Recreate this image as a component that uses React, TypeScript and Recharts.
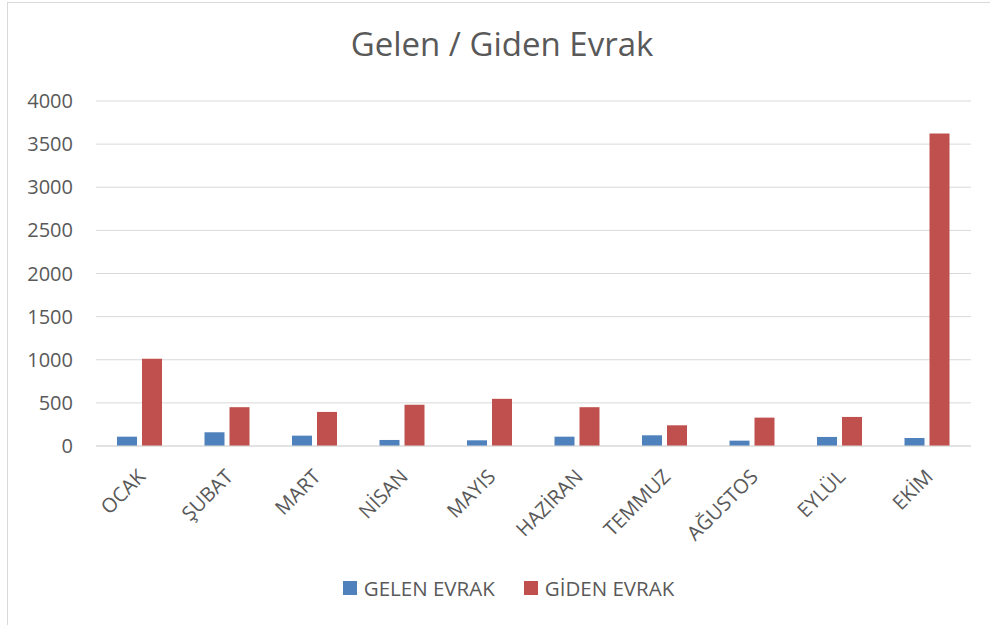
import React from 'react';
import { BarChart, Bar, XAxis, YAxis, CartesianGrid, Legend } from 'recharts';

const months = ['OCAK', 'ŞUBAT', 'MART', 'NİSAN', 'MAYIS', 'HAZİRAN', 'TEMMUZ', 'AĞUSTOS', 'EYLÜL', 'EKİM'];
const gelen = [108, 159, 120, 70, 66, 108, 124, 62, 105, 93];
const giden = [1012, 450, 395, 477, 547, 450, 240, 329, 337, 3624];
const yTicks = [0, 500, 1000, 1500, 2000, 2500, 3000, 3500, 4000];

const FONT = '"Open Sans", sans-serif';
const TEXT = '#595959';
const BLUE = '#4f81bd';
const RED = '#c0504d';

const data = months.map((m, i) => ({ month: m, gelen: gelen[i], giden: giden[i] }));

const MonthTick = (props: any) => {
  const { x, y, payload } = props;
  return (
    <g transform={`translate(${x + 2},${y + 19})`}>
      <text
        textAnchor="end"
        transform="rotate(-45)"
        dy="0.35em"
        fill={TEXT}
        fontSize={20}
        fontFamily={FONT}
      >
        {payload.value}
      </text>
    </g>
  );
};

const LegendBox = () => (
  <div style={{ display: 'flex', justifyContent: 'center', alignItems: 'center', height: 30, fontFamily: FONT, fontSize: 20.5, color: TEXT }}>
    <span style={{ display: 'inline-block', width: 14, height: 14, background: BLUE, marginRight: 7 }} />
    <span style={{ marginRight: 29 }}>GELEN EVRAK</span>
    <span style={{ display: 'inline-block', width: 14, height: 14, background: RED, marginRight: 7 }} />
    <span>GİDEN EVRAK</span>
  </div>
);

export default function App() {
  return (
    <div style={{ position: 'fixed', left: 0, top: 0, width: 990, height: 625, overflow: 'hidden', background: '#fff' }}>
      <div style={{ position: 'absolute', left: 7, top: 2, width: 1000, height: 700, borderLeft: '1px solid #d9d9d9', borderTop: '1px solid #d9d9d9' }} />
      <div style={{ position: 'absolute', left: 7, width: 990, top: 21, textAlign: 'center', fontFamily: FONT, fontSize: 33, color: TEXT }}>
        Gelen / Giden Evrak
      </div>
      <div style={{ position: 'absolute', left: 0, top: 0 }}>
        <BarChart
          width={990}
          height={625}
          data={data}
          margin={{ top: 101, right: 19, bottom: 49, left: 0 }}
          barSize={20}
          barGap={5}
        >
          <CartesianGrid vertical={false} stroke="#d9d9d9" />
          <XAxis
            dataKey="month"
            height={100}
            interval={0}
            tickLine={false}
            axisLine={{ stroke: '#d9d9d9' }}
            tick={<MonthTick />}
          />
          <YAxis
            width={96}
            domain={[0, 4000]}
            ticks={yTicks}
            tickLine={false}
            axisLine={false}
            tickMargin={17}
            tick={{ fill: TEXT, fontSize: 20, fontFamily: FONT }}
          />
          <Legend
            content={<LegendBox />}
            wrapperStyle={{ left: 23, width: 971, top: 573, bottom: 'auto' }}
          />
          <Bar dataKey="gelen" name="GELEN EVRAK" fill={BLUE} isAnimationActive={false} />
          <Bar dataKey="giden" name="GİDEN EVRAK" fill={RED} isAnimationActive={false} />
        </BarChart>
      </div>
    </div>
  );
}
